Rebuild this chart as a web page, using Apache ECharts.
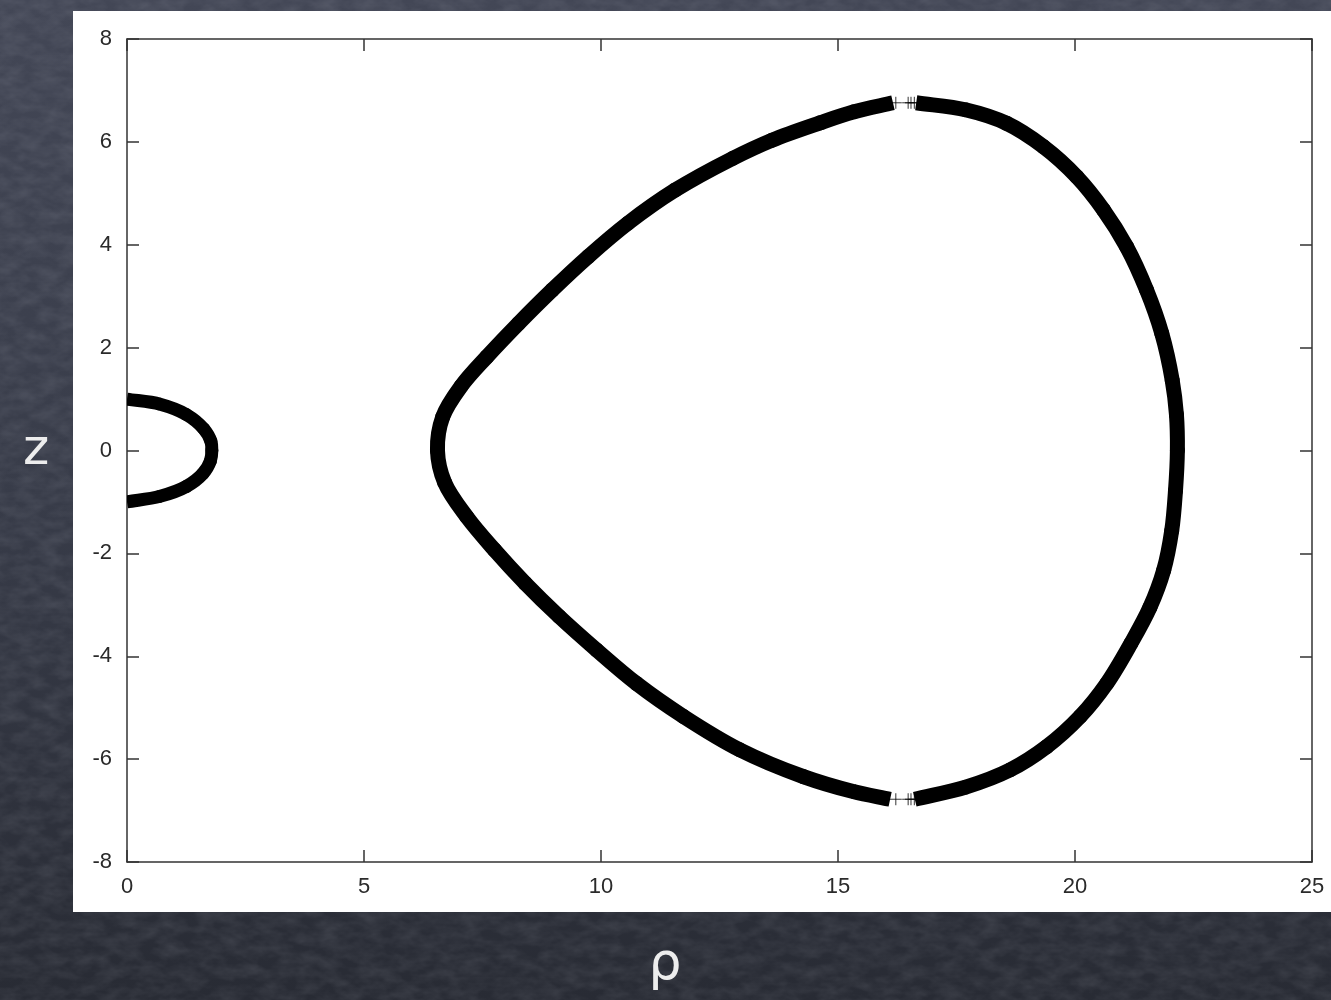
<!DOCTYPE html>
<html>
<head>
<meta charset="utf-8">
<script src="https://cdn.jsdelivr.net/npm/echarts@6/dist/echarts.min.js"></script>
<style>
  html, body { margin: 0; padding: 0; }
  body {
    width: 1331px; height: 1000px; overflow: hidden;
    background-color: #363a46;
    background-image:
      url("data:image/svg+xml;utf8,<svg xmlns='http://www.w3.org/2000/svg' width='1331' height='1000'><filter id='n'><feTurbulence type='fractalNoise' baseFrequency='0.05 0.09' numOctaves='3' seed='7'/><feColorMatrix values='0 0 0 0 0.85  0 0 0 0 0.87  0 0 0 0 0.95  0.16 0 0 0 -0.05'/></filter><rect width='100%' height='100%' filter='url(%23n)'/></svg>"),
      linear-gradient(to bottom, #434756 0%, #383c49 50%, #282b34 100%);
  }
  #chart { width: 1331px; height: 1000px; }
</style>
</head>
<body>
<div id="chart"></div>
<script>
// Axis ticks
const rhoTicks = [0, 5, 10, 15, 20, 25];
const zTicks = [-8, -6, -4, -2, 0, 2, 4, 6, 8];

// Small loop near the axis, points as [rho, z]
const innerLoop = [
  [0, 1.0], [0.70, 0.90], [1.25, 0.70], [1.62, 0.42], [1.77, 0.18], [1.79, 0],
  [1.76, -0.20], [1.60, -0.45], [1.25, -0.70], [0.70, -0.89], [0, -1.0]
];

// Large loop, left branch (top break → left apex → bottom break)
const outerLeft = [
  [16.16, 6.76], [15.32, 6.58], [14.62, 6.37], [13.60, 6.03], [12.78, 5.68],
  [11.56, 5.06], [10.57, 4.42], [9.73, 3.77], [8.97, 3.12], [8.26, 2.47],
  [7.59, 1.82], [7.05, 1.25], [6.66, 0.65], [6.55, 0], [6.70, -0.62],
  [7.17, -1.29], [7.75, -1.93], [8.40, -2.58], [9.12, -3.23], [9.91, -3.88],
  [10.75, -4.53], [11.74, -5.17], [12.93, -5.82], [14.27, -6.34], [15.32, -6.63],
  [16.10, -6.78]
];

// Large loop, right branch (top break → right side → bottom break)
const outerRight = [
  [16.65, 6.76], [17.71, 6.62], [18.56, 6.36], [19.33, 5.91], [20.04, 5.32],
  [20.60, 4.68], [21.09, 3.96], [21.51, 3.12], [21.83, 2.28], [22.05, 1.37],
  [22.14, 0.70], [22.16, 0], [22.12, -0.78], [22.04, -1.56], [21.87, -2.33],
  [21.58, -3.05], [21.18, -3.75], [20.67, -4.53], [20.11, -5.17], [19.40, -5.76],
  [18.63, -6.21], [17.71, -6.54], [16.62, -6.78]
];

// Sparse points inside the two breaks of the large loop
const breakPoints = [
  [16.22, 6.76], [16.48, 6.76], [16.54, 6.76], [16.61, 6.76],
  [16.22, -6.78], [16.48, -6.78], [16.54, -6.78], [16.61, -6.78]
];

const axisColor = '#333';
const labelFont = { color: '#2a2a2a', fontSize: 22, fontFamily: 'Liberation Sans, Arial, sans-serif' };

function frameAxis(position, isX, showLabels) {
  const ticks = isX ? rhoTicks : zTicks;
  return {
    type: 'value',
    position: position,
    min: ticks[0],
    max: ticks[ticks.length - 1],
    interval: ticks[1] - ticks[0],
    axisLine: { show: true, onZero: false, lineStyle: { color: axisColor, width: 1.5 } },
    axisTick: { show: true, inside: true, length: 12, lineStyle: { color: axisColor, width: 1.5 } },
    axisLabel: Object.assign({ show: showLabels, margin: isX ? 14 : 15 }, labelFont),
    splitLine: { show: false }
  };
}

function unit(dx, dy) {
  const len = Math.hypot(dx, dy) || 1;
  return [dx / len, dy / len];
}

// Thick smooth curve through the given points: each data item draws the
// cubic segment to the next point, with tangents bisecting neighbouring chords.
function curveSeries(points, width) {
  const last = points.length - 1;
  return {
    type: 'custom',
    data: points,
    encode: { x: 0, y: 1 },
    clip: true,
    silent: true,
    renderItem: function (params, api) {
      const i = params.dataIndex;
      if (i >= last) return null;
      const px = points.map(function (p) { return api.coord(p); });
      const tangent = function (k) {
        if (k === 0) return unit(px[1][0] - px[0][0], px[1][1] - px[0][1]);
        if (k === last) return unit(px[last][0] - px[last - 1][0], px[last][1] - px[last - 1][1]);
        const a = unit(px[k][0] - px[k - 1][0], px[k][1] - px[k - 1][1]);
        const b = unit(px[k + 1][0] - px[k][0], px[k + 1][1] - px[k][1]);
        return unit(a[0] + b[0], a[1] + b[1]);
      };
      const p0 = px[i], p1 = px[i + 1];
      const h = Math.hypot(p1[0] - p0[0], p1[1] - p0[1]) / 3;
      const t0 = tangent(i), t1 = tangent(i + 1);
      const edge = (i === 0 || i === last - 1);
      return {
        type: 'bezierCurve',
        shape: {
          x1: p0[0], y1: p0[1], x2: p1[0], y2: p1[1],
          cpx1: p0[0] + t0[0] * h, cpy1: p0[1] + t0[1] * h,
          cpx2: p1[0] - t1[0] * h, cpy2: p1[1] - t1[1] * h
        },
        style: { stroke: '#000', lineWidth: width, fill: 'none', lineCap: edge ? 'butt' : 'round' }
      };
    }
  };
}

const chart = echarts.init(document.getElementById('chart'), null, { renderer: 'canvas' });

chart.setOption({
  animation: false,
  backgroundColor: 'transparent',
  grid: { left: 127, right: 19, top: 39, bottom: 138, containLabel: false },
  graphic: [
    {
      type: 'rect', z: -1, silent: true,
      shape: { x: 73, y: 11, width: 1258, height: 901 },
      style: { fill: '#ffffff' }
    },
    {
      type: 'text', silent: true,
      style: {
        text: 'z', x: 36, y: 451, align: 'center', verticalAlign: 'middle',
        font: '50px "DejaVu Sans", sans-serif', fill: '#ededed'
      }
    },
    {
      type: 'text', silent: true,
      style: {
        text: 'ρ', x: 665, y: 965, align: 'center', verticalAlign: 'middle',
        font: '52px "DejaVu Sans", sans-serif', fill: '#ededed'
      }
    }
  ],
  xAxis: [frameAxis('bottom', true, true), frameAxis('top', true, false)],
  yAxis: [frameAxis('left', false, true), frameAxis('right', false, false)],
  series: [
    curveSeries(innerLoop, 13),
    curveSeries(outerLeft, 15),
    curveSeries(outerRight, 15),
    {
      type: 'scatter', data: breakPoints,
      symbol: 'path://M6,0V12M0,6H12', symbolSize: [12, 12],
      itemStyle: { color: 'rgba(0,0,0,0)', borderColor: '#000', borderWidth: 1 }
    }
  ]
});
</script>
</body>
</html>
